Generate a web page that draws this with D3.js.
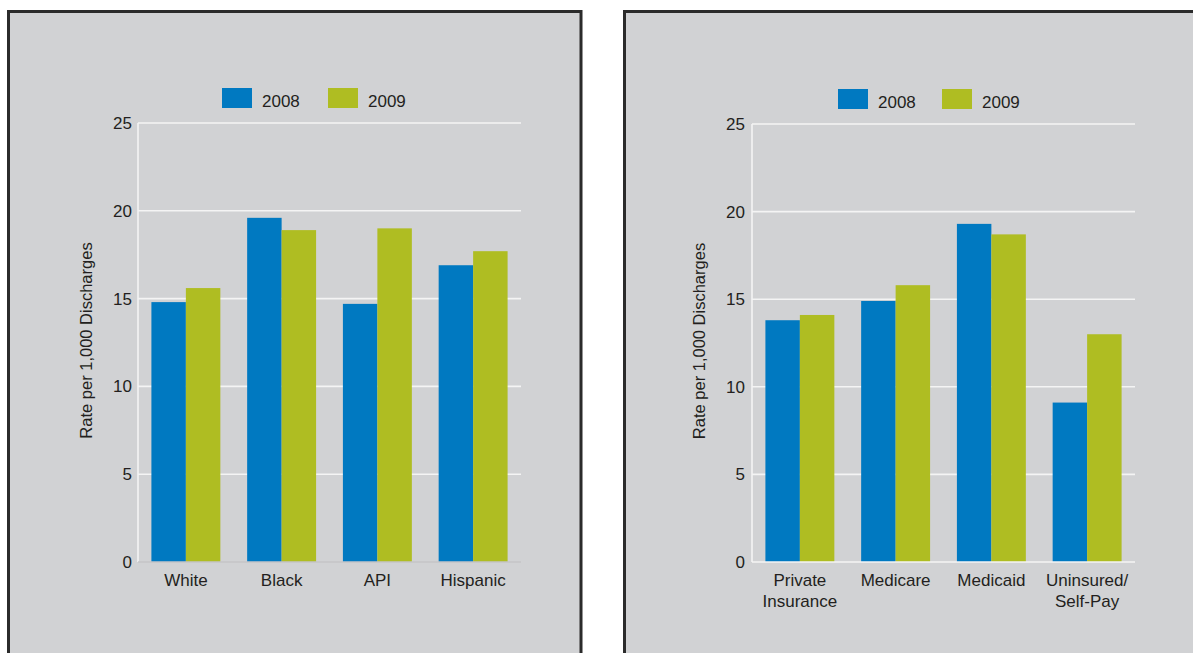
<!DOCTYPE html>
<html>
<head>
<meta charset="utf-8">
<script src="https://cdn.jsdelivr.net/npm/d3@7"></script>
<style>
  html, body { margin: 0; padding: 0; background: #ffffff; }
  svg { display: block; font-family: "Liberation Sans", Arial, Helvetica, sans-serif; }
</style>
</head>
<body>
<svg id="chart" width="1193" height="653"></svg>
<script>
// ---- Data ----
const seriesNames = ["2008", "2009"];
const raceCategories = ["White", "Black", "API", "Hispanic"];
const race2008 = [14.8, 19.6, 14.7, 16.9];
const race2009 = [15.6, 18.9, 19.0, 17.7];
const payerCategories = ["Private\nInsurance", "Medicare", "Medicaid", "Uninsured/\nSelf-Pay"];
const payer2008 = [13.8, 14.9, 19.3, 9.1];
const payer2009 = [14.1, 15.8, 18.7, 13.0];
const yTicks = [0, 5, 10, 15, 20, 25];
const yTitle = "Rate per 1,000 Discharges";

// ---- Styles ----
const colors = ["#0079c1", "#afbd22"];
const panelBg = "#d1d2d4";
const textColor = "#231f20";

const svg = d3.select("#chart");

function drawPanel(cfg) {
  const g = svg.append("g");
  // panel background + border
  g.append("rect")
    .attr("x", cfg.panel.x).attr("y", cfg.panel.y)
    .attr("width", cfg.panel.w).attr("height", cfg.panel.h)
    .attr("fill", panelBg).attr("stroke", "#2b2b2b").attr("stroke-width", 3);

  const x = d3.scaleBand().domain(cfg.categories)
    .range([cfg.plot.x0, cfg.plot.x1]).paddingInner(0.28).paddingOuter(0.14);
  const x1 = d3.scaleBand().domain(seriesNames).range([0, x.bandwidth()]);
  const y = d3.scaleLinear().domain([0, 25]).range([cfg.plot.y0, cfg.plot.y1]);

  // gridlines
  g.append("g").selectAll("line").data(yTicks.filter(t => t > 0)).join("line")
    .attr("x1", cfg.plot.x0).attr("x2", cfg.plot.x1)
    .attr("y1", d => y(d)).attr("y2", d => y(d))
    .attr("stroke", "#f4f4f4").attr("stroke-width", 1.6);

  // bars
  const data = cfg.categories.map((c, i) => ({ c, vals: [cfg.s1[i], cfg.s2[i]] }));
  const grp = g.append("g").selectAll("g").data(data).join("g")
    .attr("transform", d => `translate(${x(d.c)},0)`);
  grp.selectAll("rect").data(d => d.vals.map((v, j) => ({ v, s: seriesNames[j], j })))
    .join("rect")
    .attr("x", d => x1(d.s)).attr("width", x1.bandwidth())
    .attr("y", d => y(d.v)).attr("height", d => y(0) - y(d.v))
    .attr("fill", d => colors[d.j]);

  // y axis line & baseline
  g.append("line").attr("x1", cfg.plot.x0).attr("x2", cfg.plot.x0)
    .attr("y1", y(25)).attr("y2", y(0)).attr("stroke", "#f4f4f4").attr("stroke-width", 1.6);
  g.append("line").attr("x1", cfg.plot.x0).attr("x2", cfg.plot.x1)
    .attr("y1", y(0)).attr("y2", y(0)).attr("stroke", cfg.baseColor).attr("stroke-width", 1.6);

  // y tick labels via axis
  const yAxis = d3.axisLeft(y).tickValues(yTicks).tickSize(0).tickPadding(cfg.tickPad).tickFormat(d3.format("d"));
  const ya = g.append("g").attr("transform", `translate(${cfg.plot.x0},0)`).call(yAxis);
  ya.select(".domain").remove();
  ya.selectAll("text").attr("font-size", 17).attr("fill", textColor)
    .attr("font-family", "Liberation Sans, Arial, sans-serif");

  // x labels
  const xl = g.append("g").selectAll("text").data(cfg.categories).join("text")
    .attr("text-anchor", "middle").attr("font-size", 17).attr("fill", textColor)
    .attr("x", d => x(d) + x.bandwidth() / 2).attr("y", y(0) + 24);
  xl.each(function (d) {
    const lines = d.split("\n");
    d3.select(this).selectAll("tspan").data(lines).join("tspan")
      .attr("x", x(d) + x.bandwidth() / 2)
      .attr("dy", (l, i) => i === 0 ? 0 : 21)
      .text(l => l);
  });

  // y title
  g.append("text")
    .attr("transform", `translate(${cfg.titleX},${(y(0) + y(25)) / 2 - 2}) rotate(-90)`)
    .attr("text-anchor", "middle").attr("font-size", 16.5).attr("fill", textColor)
    .text(yTitle);

  // legend
  const lg = g.append("g").attr("transform", `translate(${cfg.legend.x},${cfg.legend.y})`);
  seriesNames.forEach((s, i) => {
    const ox = i * cfg.legend.gap;
    lg.append("rect").attr("x", ox).attr("y", 0).attr("width", 30).attr("height", 20)
      .attr("fill", colors[i]);
    lg.append("text").attr("x", ox + 40).attr("y", 19).attr("font-size", 17)
      .attr("fill", textColor).text(s);
  });
}

drawPanel({
  panel: { x: 8.5, y: 11.5, w: 572.5, h: 700 },
  plot: { x0: 138, x1: 521, y0: 562, y1: 123 },
  categories: raceCategories, s1: race2008, s2: race2009,
  titleX: 92, tickPad: 6, legend: { x: 222, y: 88, gap: 106 }, baseColor: "#c4c5c7"
});
drawPanel({
  panel: { x: 624.5, y: 11.5, w: 640, h: 700 },
  plot: { x0: 752, x1: 1135, y0: 562, y1: 124 },
  categories: payerCategories, s1: payer2008, s2: payer2009,
  titleX: 705, tickPad: 7, legend: { x: 838, y: 89, gap: 104 }, baseColor: "#f4f4f4"
});
</script>
</body>
</html>
